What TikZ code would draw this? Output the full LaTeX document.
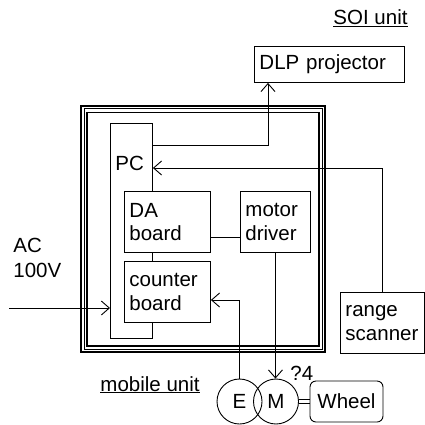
\documentclass[tikz,border=0pt]{standalone}
\usepackage{fontspec}
\setmainfont{Liberation Sans}
\usetikzlibrary{arrows.meta}
\begin{document}
\begin{tikzpicture}[x=1pt,y=-1pt,line width=0.9pt,
  every node/.style={font=\fontsize{20.5pt}{23.5pt}\selectfont, inner sep=0pt},
  box/.style={draw, fill=white, inner xsep=5pt, inner ysep=0pt, align=left, anchor=north west},
  arr/.style={-{Straight Barb[length=8pt,width=14pt,line width=0.9pt]}},
  txt/.style={anchor=base west},
  circ/.style={circle, draw, minimum size=45pt}]
\useasboundingbox (0,0) rectangle (425,424);
% frame
\draw[line width=2pt] (81,105.5) rectangle (325,352);
\draw[line width=0.7pt] (84,108.7) rectangle (322.3,349);
\draw[line width=1.3pt] (87,112.5) rectangle (319,346);
% boxes
\node[box, text width=140pt, minimum height=36pt] (dlp) at (254,46) {DLP projector};
\node[draw, minimum width=42pt, minimum height=215pt, anchor=north west] (pc) at (110,123) {};
\node[txt] (pclabel) at (115,170.7) {PC};
\node[box, text width=76pt, minimum height=61pt] (da) at (124,191) {DA\\board};
\node[box, text width=60pt, minimum height=61pt] (md) at (240,191) {motor\\driver};
\node[box, text width=76pt, minimum height=61pt] (cb) at (124,261) {counter\\board};
\node[box, text width=74pt, minimum height=61pt] (rs) at (340,292) {range\\scanner};
\node[circ] (e) at (239.5,401.5) {E};
\node[circ] (m) at (276,401.5) {M};
\node[draw, rounded corners=6pt, minimum width=73pt, minimum height=41pt] (wheel) at (346.5,401.5) {Wheel};
% labels
\node[txt] (soi) at (333,24.7) {\underline{SOI unit}};
\node[txt] (ac1) at (13,252.7) {AC};
\node[txt] (ac2) at (13,277) {100V};
\node[txt] (mob) at (100,391) {\underline{mobile unit}};
\node[txt] (q4) at (290,380) {?4};
% connectors
\coordinate (acin) at (9,308);
\draw[arr] ([yshift=-22pt]pc.north east) -| ([xshift=14pt]dlp.south west);
\draw[arr] (rs.north) |- ([yshift=-45pt]pc.north east);
\draw ([yshift=-46pt]da.north east) -- ([yshift=-46pt]md.north west);
\draw[arr] (e.north) |- ([yshift=-39pt]cb.north east);
\draw[arr] (md.south) -- (md.south |- m.north);
\draw[arr] (acin) -- (acin -| pc.west);
\draw ([yshift=2.4pt]m.east) -- ([yshift=2.4pt]m.east -| wheel.west);
\draw ([yshift=-2.4pt]m.east) -- ([yshift=-2.4pt]m.east -| wheel.west);
\end{tikzpicture}
\end{document}
